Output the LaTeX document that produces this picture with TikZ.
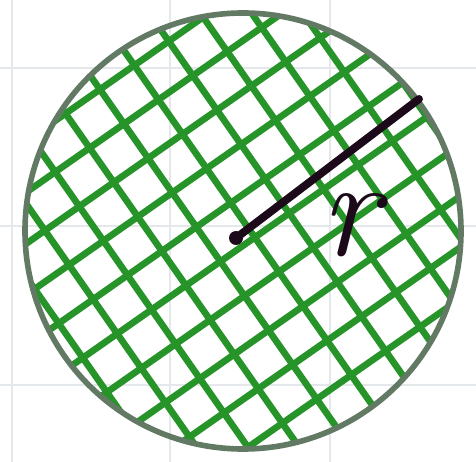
\documentclass[tikz,border=0pt]{standalone}
\usepackage{tikz}
\usetikzlibrary{calc, positioning}
\definecolor{hatchgreen}{RGB}{38,148,40}
\definecolor{rimgrey}{RGB}{98,122,100}
\definecolor{inkdark}{RGB}{28,10,26}
\definecolor{paperline}{RGB}{228,232,234}

\begin{document}
\begin{tikzpicture}[x=0.02cm, y=-0.02cm,
  gridline/.style={draw=paperline, line width=1.2pt},
  hatch/.style={draw=hatchgreen, line width=3.8pt, line cap=round},
  rim/.style={draw=rimgrey, line width=3.2pt},
  radiusline/.style={draw=inkdark, line width=4.5pt, line cap=round}]

  \useasboundingbox (0,0) rectangle (476,462);
  \fill[white] (0,0) rectangle (476,462);

  % squared paper
  \foreach \gx in {12,170,330} \draw[gridline] (\gx,0) -- (\gx,462);
  \foreach \gy in {68,226,385} \draw[gridline] (0,\gy) -- (476,\gy);

  \coordinate (O)   at (243,231);
  \coordinate (ctr) at (236,238);
  \coordinate (P)   at (419,99);

  % cross hatching
  \begin{scope}
    \clip (O) circle[radius=218];
    \begin{scope}[shift={(O)}, rotate=35]
      \foreach \k in {-6,...,6} {
        \draw[hatch] (-240,\k*42+12) -- (240,\k*42+12);
        \draw[hatch] (\k*42+6,-240) -- (\k*42+6,240);
      }
    \end{scope}
  \end{scope}
  \draw[rim] (O) circle[radius=218];

  % radius
  \draw[radiusline] (ctr) -- (P);
  \fill[inkdark] (ctr) circle[radius=7];
  \node[text=inkdark, inner sep=0pt, font=\fontsize{80}{80}\selectfont\itshape] (lbl) at (350,225) {r};
\end{tikzpicture}
\end{document}
